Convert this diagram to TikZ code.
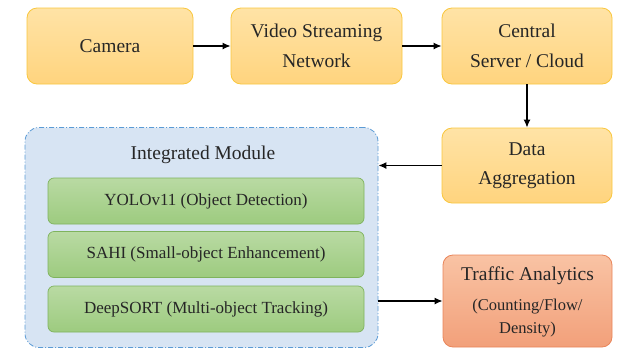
\documentclass[tikz,border=0pt]{standalone}
\usepackage{fontspec}
\setmainfont{Liberation Serif}
\usetikzlibrary{arrows.meta}
\definecolor{orfillA}{HTML}{FFE3A6}
\definecolor{orfillB}{HTML}{FFD47E}
\definecolor{ordraw}{HTML}{F9C73E}
\definecolor{grfillA}{HTML}{B9DAA3}
\definecolor{grfillB}{HTML}{9DCB7F}
\definecolor{grdraw}{HTML}{7FB35D}
\definecolor{blfill}{HTML}{D7E4F3}
\definecolor{bldraw}{HTML}{5B9BD5}
\definecolor{redfillA}{HTML}{F9C3A4}
\definecolor{redfillB}{HTML}{F2A07A}
\definecolor{reddraw}{HTML}{E9855A}
\tikzset{
  orbox/.style={draw=ordraw, line width=0.8pt, rounded corners=10pt, top color=orfillA, bottom color=orfillB, align=center, font=\fontsize{19.5}{29.5}\selectfont, text=black!85},
  grbox/.style={draw=grdraw, line width=0.7pt, rounded corners=6pt, top color=grfillA, bottom color=grfillB, minimum width=316pt, minimum height=46pt, font=\fontsize{17}{22}\selectfont, text=black!85},
  modbox/.style={draw=bldraw, fill=blfill, line width=0.8pt, dash pattern=on 5pt off 2pt on 1pt off 2pt, rounded corners=14pt},
  rdbox/.style={draw=reddraw, line width=0.8pt, rounded corners=10pt, top color=redfillA, bottom color=redfillB, align=center, text=black!85},
  conn/.style={-{Latex[length=8pt,width=7pt]}, line width=1.3pt, black}
}
\begin{document}
\begin{tikzpicture}[x=1pt,y=-1pt]
\useasboundingbox (0,0) rectangle (622,349);
\node[orbox, minimum width=166pt, minimum height=76pt] (cam) at (110,46) {Camera};
\node[orbox, minimum width=171pt, minimum height=76pt] (vid) at (316.5,46) {Video Streaming\\Network};
\node[orbox, minimum width=170pt, minimum height=76pt] (srv) at (527,46) {Central\\Server / Cloud};
\node[orbox, minimum width=170pt, minimum height=75pt] (agg) at (527,165.5) {Data\\Aggregation};
\node[modbox, minimum width=353pt, minimum height=220pt] (mod) at (201.5,237.5) {};
\node[font=\fontsize{19.5}{24}\selectfont, text=black!85] (title) at (203,155) {Integrated Module};
\node[grbox] (yolo) at (206,201) {YOLOv11 (Object Detection)};
\node[grbox] (sahi) at (206,254.5) {SAHI (Small-object Enhancement)};
\node[grbox] (deep) at (206,309) {DeepSORT (Multi-object Tracking)};
\node[rdbox, minimum width=169pt, minimum height=92pt] (traf) at (527.5,301) {};
\node[font=\fontsize{19.5}{24}\selectfont, text=black!85] (tt) at (527.5,276) {Traffic Analytics};
\node[font=\fontsize{16.5}{23}\selectfont, align=center, text=black!85] (ts) at (527.5,318.5) {(Counting/Flow/\\Density)};
\draw[conn] (cam) -- (vid);
\draw[conn] (vid) -- (srv);
\draw[conn] (srv) -- (agg);
\draw[conn] (agg.west) -- (mod.east |- agg.west);
\draw[conn] (mod.east |- traf.west) -- (traf.west);
\end{tikzpicture}
\end{document}
